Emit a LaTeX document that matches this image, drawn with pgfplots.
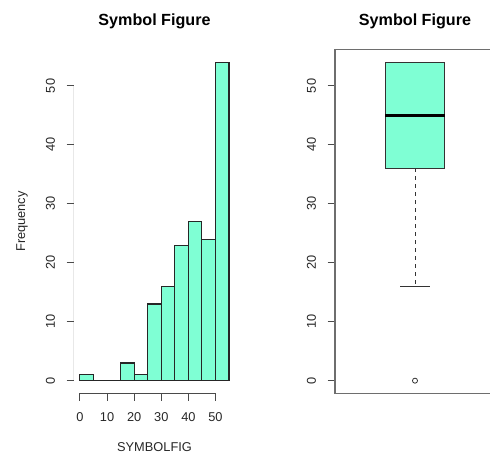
\documentclass[border=0pt]{standalone}
\usepackage{pgfplots}
\pgfplotsset{compat=1.18}
\usepackage{fontspec}
\setmainfont{Liberation Sans}

\definecolor{aqua}{HTML}{7FFFD4}
\definecolor{axisgray}{HTML}{4A4A4A}
\definecolor{framegray}{HTML}{6E6E6E}

\pgfplotsset{
  rstyle/.style={
    scale only axis,
    ymin=-2.16, ymax=56.16,
    ytick={0,10,...,50},
    tick align=outside,
    major tick length=5.6pt,
    tick style={axisgray, line width=0.75pt},
    /pgf/number format/assume math mode=true,
    every tick label/.append style={font=\fontsize{9.6}{11}\selectfont, text=black!85},
    yticklabel style={rotate=90, anchor=south, inner sep=0pt},
    yticklabel shift=8.4pt,
    title style={at={(rel axis cs:0.5,1.0465)}, anchor=base,
                 font=\fontsize{12.1}{14}\selectfont\bfseries},
    title={Symbol Figure},
  }
}

\begin{document}
\begin{tikzpicture}
\useasboundingbox (0,0) rectangle (367.5pt,342.75pt);
\clip (0,0) rectangle (367.5pt,342.75pt);

% Histogram of SYMBOLFIG
\begin{axis}[
  rstyle,
  at={(55.5pt,47.7pt)}, anchor=south west,
  width=120.75pt, height=257.85pt,
  xmin=-2.2, xmax=57.2,
  xtick={0,10,...,50},
  separate axis lines,
  axis line style={draw=none},
  xtick pos=bottom, ytick pos=left,
  xticklabel style={anchor=north, inner sep=0pt},
  xticklabel shift=8.35pt,
  xlabel={SYMBOLFIG},
  xlabel style={at={(rel axis cs:0.5,-0.1693)}, anchor=base,
                font=\fontsize{9.6}{11}\selectfont, text=black!85},
  ylabel={Frequency},
  ylabel style={at={(rel axis cs:-0.3043,0.5)}, anchor=base,
                font=\fontsize{9.6}{11}\selectfont, text=black!85},
]
\addplot[ybar interval, fill=aqua, draw=black!85, line width=0.8pt]
  coordinates {(0,1) (5,0) (10,0) (15,3) (20,1) (25,13) (30,16)
               (35,23) (40,27) (45,24) (50,54) (55,54)};
\draw[axisgray, line width=0.75pt] (axis cs:0,-2.16) -- (axis cs:50,-2.16);
\draw[axisgray, line width=0.75pt] (axis cs:-2.2,0) -- (axis cs:-2.2,50);
\end{axis}

% Boxplot of SYMBOLFIG
\begin{axis}[
  rstyle,
  at={(251.25pt,47.7pt)}, anchor=south west,
  width=120pt, height=257.85pt,
  xmin=0.46, xmax=1.54,
  xtick=\empty,
  ytick pos=left,
  axis line style={framegray, line width=0.9pt},
]
% box (lower quartile 36, upper quartile 54)
\addplot[fill=aqua, draw=black!80, line width=0.8pt]
  coordinates {(0.8,36) (1.2,36) (1.2,54) (0.8,54)} -- cycle;
% median
\addplot[black, line width=2.2pt] coordinates {(0.8,45) (1.2,45)};
% lower whisker and staple
\addplot[black!80, line width=0.75pt, dash pattern=on 3pt off 3pt]
  coordinates {(1,36) (1,16)};
\addplot[black!80, line width=0.75pt] coordinates {(0.9,16) (1.1,16)};
% upper staple coincides with the box top
\addplot[black!80, line width=0.75pt] coordinates {(0.9,54) (1.1,54)};
% outlier
\addplot[only marks, mark=o, mark size=1.9pt, black!80, line width=0.6pt]
  coordinates {(1,0)};
\end{axis}
\end{tikzpicture}
\end{document}
